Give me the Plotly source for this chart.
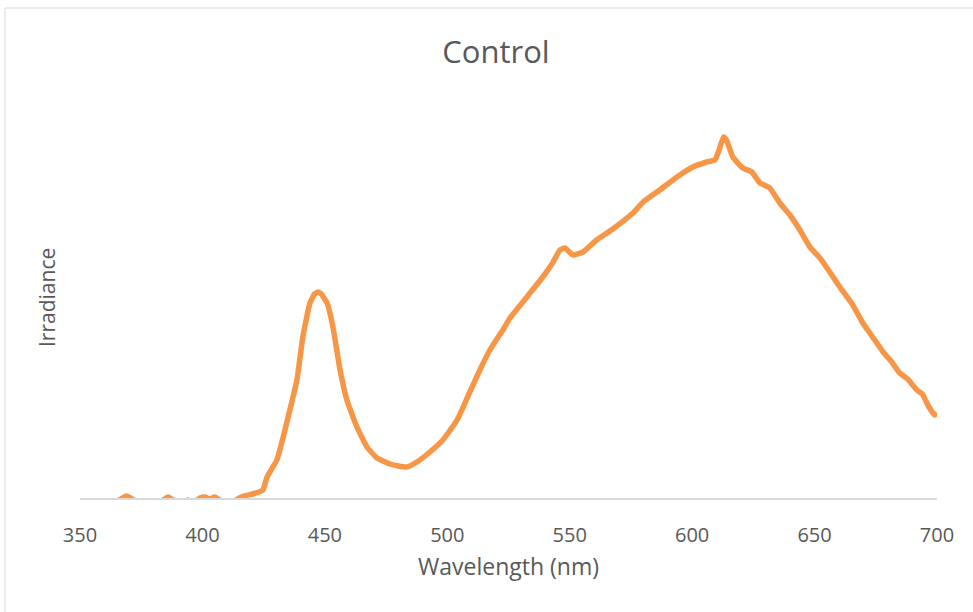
import plotly.graph_objects as go

wavelength = [350, 355, 360, 363, 366, 369, 372, 375, 380, 384, 386, 388, 392, 394, 396, 399, 401, 403, 405, 407,
              410, 413, 415, 417, 420.5, 423, 424.7, 426.4, 428.5, 430.4, 433, 435.7, 438.6, 441, 443.9, 445.8, 447.2,
              448.5, 450.9, 453.3, 456.2, 459, 463.1, 467.2, 471.3, 476.6, 480, 483.5, 487.6, 492.9, 498.2, 504,
              509.2, 513.3, 517.4, 520, 522.7, 525.6, 532.5, 539, 543, 546, 548, 551.3, 555.4, 561, 567.6, 575.8,
              580, 586.8, 593.8, 600.3, 606, 609.3, 611, 612.8, 614, 616.6, 620.7, 624.4, 627.7, 631.7, 635.8, 639.9,
              644, 648.1, 652.2, 656.2, 660.3, 665.6, 669.7, 674, 678, 681.5, 684.8, 688, 691.8, 694, 696.5, 699, 700]
irradiance = [-5, -5, -4, -5, -2, 2, -2, -5, -5, -2, 1, -2, -5, -2, -5, 0, 1, -1, 1, -2,
              -4, -3, 0, 2, 4, 6, 8, 21, 30, 38, 61, 88, 118, 161, 195, 204, 206,
              204, 195, 171, 128, 98, 71, 51, 40, 34, 32, 31, 36, 46, 58, 78,
              106, 128, 148, 158, 168, 180, 201, 221, 235, 248, 250, 243, 246, 258, 269, 285,
              296, 308, 321, 331, 336, 338, 348, 361, 358, 341, 330, 326, 315, 310, 295, 283,
              268, 251, 240, 226, 211, 193, 175, 160, 146, 136, 125, 119, 108, 104, 92, 83, 85]

x_ticks = [350, 400, 450, 500, 550, 600, 650, 700]

fig = go.Figure()
fig.add_trace(go.Scatter(
    x=wavelength, y=irradiance, mode="lines",
    line=dict(color="#F79646", width=5.5, shape="spline", smoothing=0.4),
    hoverinfo="skip", showlegend=False,
))

font_family = "Open Sans, Noto Sans, sans-serif"
fig.update_layout(
    width=973, height=612,
    paper_bgcolor="white", plot_bgcolor="white",
    margin=dict(l=80, r=36, t=98, b=114),
    title=dict(text="Control", x=496 / 973, xanchor="center",
               y=1 - 52 / 612, yanchor="middle",
               font=dict(family=font_family, size=31, color="#595959")),
    font=dict(family=font_family, color="#595959"),
    xaxis=dict(range=[350, 700], tickmode="array", tickvals=x_ticks, ticks="",
               showgrid=False, zeroline=False, showline=True, linecolor="#d9d9d9", linewidth=1.5,
               tickfont=dict(size=20, color="#595959"), ticklabelstandoff=18,
               title=dict(text="Wavelength (nm)", font=dict(size=23, color="#595959"), standoff=12)),
    yaxis=dict(range=[0, 400], showticklabels=False, showgrid=False, zeroline=False, showline=False,
               ticks=""),
    annotations=[dict(text="Irradiance", xref="paper", yref="paper", x=(47 - 80) / 857, y=(498 - 298) / 400,
                      textangle=-90, showarrow=False, xanchor="center", yanchor="middle",
                      font=dict(size=21, color="#595959", family=font_family))],
    shapes=[dict(type="rect", xref="paper", yref="paper",
                 x0=(5 - 80) / 857, x1=(990 - 80) / 857, y0=(498 - 630) / 400, y1=(498 - 8) / 400,
                 line=dict(color="#d9d9d9", width=1), fillcolor="rgba(0,0,0,0)", layer="below")],
)

fig.write_html("out.html", config={"displayModeBar": False},
               post_script="document.body.style.margin='0px';")
